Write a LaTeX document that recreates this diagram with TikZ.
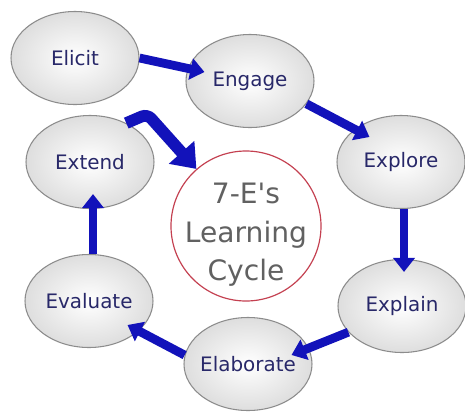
\documentclass[tikz,border=0pt]{standalone}
\usepackage{fontspec}
\setmainfont{DejaVu Sans}
\usepackage{tikz}
\usetikzlibrary{arrows.meta,positioning,shapes.geometric}
\usepackage{xcolor}
\definecolor{flowblue}{RGB}{18,18,186}
\definecolor{stageink}{RGB}{40,40,105}
\definecolor{hubred}{RGB}{196,64,80}
\tikzset{
  stage/.style={ellipse, draw=black!45, line width=0.9pt, inner color=white, outer color=black!13, inner sep=-6pt, minimum width=3.84cm, minimum height=2.79cm, text=stageink, font=\fontsize{17}{19}\selectfont},
  hub/.style={circle, draw=hubred, line width=1pt, fill=white, minimum size=4.5cm, inner sep=0pt},
  hubtext/.style={align=center, text=black!62, inner sep=0pt, font=\fontsize{24}{33}\selectfont},
  arrow/.style={-{Triangle[length=12pt,width=18pt]}, line width=7.5pt, draw=flowblue},
  bigarrow/.style={-{Triangle[length=19pt,width=28pt]}, line width=10pt, draw=flowblue, rounded corners=5pt}
}

\begin{document}
\begin{tikzpicture}[x=0.03cm,y=-0.03cm]
\useasboundingbox[fill=white] (0,0) rectangle (465,412);

% the seven stages
\node[stage] (elicit) at (75,58) {Elicit};
\node[stage] (engage) at (250,81) {Engage};
\node[stage] (explore) at (401,162) {Explore};
\node[stage] (explain) at (402,306) {Explain};
\node[stage] (elaborate) at (248,364) {Elaborate};
\node[stage] (evaluate) at (89,301) {Evaluate};
\node[stage] (extend) at (90,162) {Extend};

% centre
\node[hub] (cycle) at (246,226) {};
\node[hubtext] (cycletext) at ([shift={(0,9)}]cycle.center) {7-E\textquotesingle s\\Learning\\Cycle};

% arrows round the cycle
\draw[arrow] (elicit.east) -- ([shift={(19,-9)}]engage.west);
\draw[arrow] (engage.-22) -- ([shift={(33,-25)}]explore.west);
\draw[arrow] ([shift={(3,0)}]explore.south) -- ([shift={(2,13)}]explain.north);
\draw[arrow] (explain.206) -- ([shift={(-21,-9)}]elaborate.east);
\draw[arrow] (elaborate.172) -- ([shift={(-26,24)}]evaluate.east);
\draw[arrow] ([shift={(4,0)}]evaluate.north) -- ([shift={(3,-15)}]extend.south);
\draw[bigarrow] (extend.47) -- ([shift={(21,-9)}]extend.47) -- (cycle.131);
\end{tikzpicture}
\end{document}
